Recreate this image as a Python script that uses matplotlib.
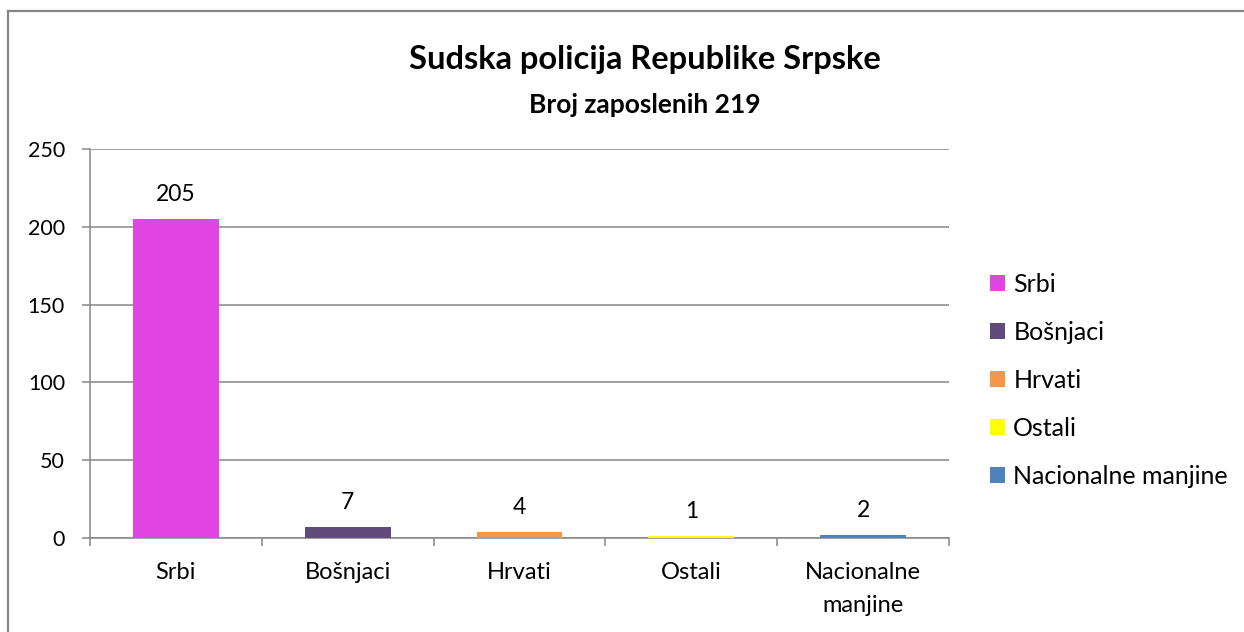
import matplotlib
matplotlib.use("Agg")
import matplotlib.pyplot as plt
from matplotlib.patches import Patch
from matplotlib.lines import Line2D

plt.rcParams["font.family"] = ["Lato", "DejaVu Sans"]

# data
categories = ["Srbi", "Bošnjaci", "Hrvati", "Ostali", "Nacionalne manjine"]
tick_labels = ["Srbi", "Bošnjaci", "Hrvati", "Ostali", "Nacionalne\nmanjine"]
values = [205, 7, 4, 1, 2]
colors = ["#E246E2", "#604A7B", "#F79646", "#FFFF00", "#4F81BD"]
yticks = [0, 50, 100, 150, 200, 250]

title = "Sudska policija Republike Srpske"
subtitle = "Broj zaposlenih 219"

GRAY = "#868686"

fig = plt.figure(figsize=(12.44, 6.32), dpi=100)
ax = fig.add_axes([90 / 1244, 1 - 538 / 632, 859 / 1244, 389 / 632])

x = list(range(len(values)))
ax.bar(x, values, width=0.5, color=colors, zorder=3)
for xi, v in zip(x, values):
    ax.annotate(str(v), (xi, v), xytext=(0, 13), textcoords="offset points",
                ha="center", va="baseline", fontsize=16.5)

ax.set_xlim(-0.5, len(values) - 0.5)
ax.set_ylim(0, 250)
ax.set_yticks(yticks)
ax.yaxis.grid(True, color=GRAY, lw=1.1, zorder=0)
ax.set_xticks(x)
ax.set_xticklabels(tick_labels, fontsize=17, linespacing=1.75)
ax.set_xticks([i - 0.5 for i in range(len(values) + 1)], minor=True)
ax.tick_params(axis="x", which="major", length=0, pad=17)
ax.tick_params(axis="x", which="minor", length=5.5, width=1.1, color=GRAY)
ax.tick_params(axis="y", length=6, width=1.1, color=GRAY, pad=12, labelsize=15.5)
for side in ("top", "right"):
    ax.spines[side].set_visible(False)
for side in ("left", "bottom"):
    ax.spines[side].set_color(GRAY)
    ax.spines[side].set_linewidth(1.1)

fig.text(645 / 1244, 1 - 60 / 632, title, ha="center", va="center",
         fontsize=23.5, fontweight="bold")
fig.text(645 / 1244, 1 - 105 / 632, subtitle, ha="center", va="center",
         fontsize=19, fontweight="bold")

handles = [Patch(facecolor=c, edgecolor="none") for c in colors]
fig.legend(handles, categories, loc="upper left",
           bbox_to_anchor=(990 / 1244, 1 - 273 / 632), frameon=False,
           fontsize=18, handlelength=0.58, handleheight=0.58,
           handletextpad=0.35, labelspacing=1.0, borderaxespad=0,
           borderpad=0)

# outer chart frame (top and left edges visible)
fig.add_artist(Line2D([8 / 1244, 1], [1 - 11 / 632] * 2, color=GRAY, lw=1.6,
                      transform=fig.transFigure))
fig.add_artist(Line2D([8 / 1244] * 2, [0, 1 - 11 / 632], color=GRAY, lw=1.6,
                      transform=fig.transFigure))

fig.savefig("out.png", dpi=100, facecolor="white")
